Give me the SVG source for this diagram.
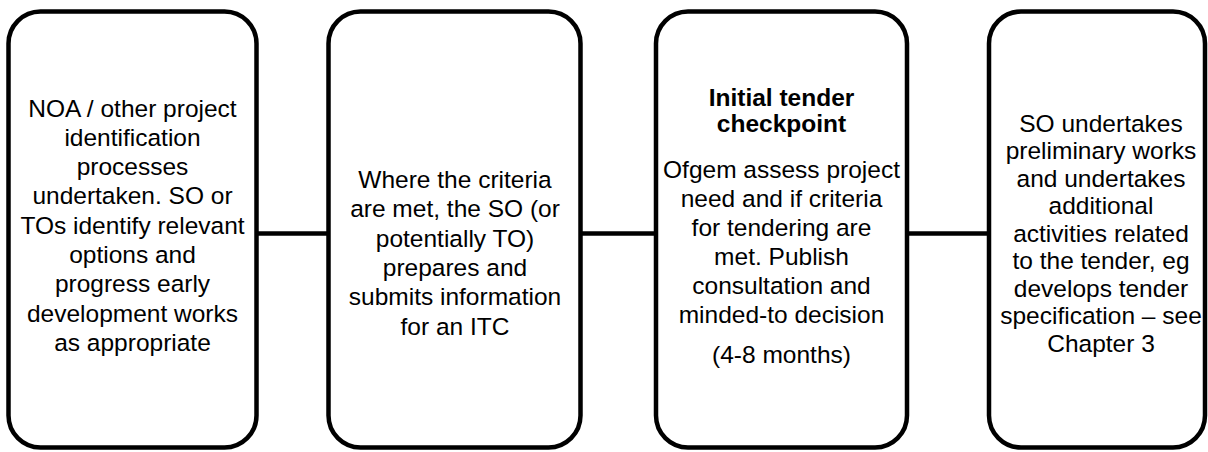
<svg xmlns="http://www.w3.org/2000/svg" width="1208" height="452" viewBox="0 0 1208 452">
  <style>
    .box { fill: #ffffff; stroke: #000000; stroke-width: 4.5; }
    .link { stroke: #000000; stroke-width: 4.5; fill: none; }
    text { font-family: "Liberation Sans", Arial, sans-serif; font-size: 24.5px; fill: #000000; text-anchor: middle; }
    .title { font-weight: bold; }
  </style>
  <rect width="1208" height="452" fill="#ffffff"/>

  <!-- connectors between stages -->
  <g id="connectors">
    <line class="link" x1="257" y1="233.5" x2="328" y2="233.5"/>
    <line class="link" x1="581" y1="233.5" x2="656" y2="233.5"/>
    <line class="link" x1="907" y1="233.5" x2="989" y2="233.5"/>
  </g>

  <!-- stage 1: project identification -->
  <g id="node-identification">
    <rect class="box" x="8.5" y="11.5" width="248" height="436" rx="32" ry="32"/>
    <text x="132.5" y="116.5">NOA / other project</text>
    <text x="132.5" y="145.8">identification</text>
    <text x="132.5" y="175.1">processes</text>
    <text x="132.5" y="204.4">undertaken. SO or</text>
    <text x="132.5" y="233.7">TOs identify relevant</text>
    <text x="132.5" y="263">options and</text>
    <text x="132.5" y="292.3">progress early</text>
    <text x="132.5" y="321.6">development works</text>
    <text x="132.5" y="350.9">as appropriate</text>
  </g>

  <!-- stage 2: ITC submission -->
  <g id="node-itc">
    <rect class="box" x="328.5" y="11.5" width="252" height="436" rx="32" ry="32"/>
    <text x="455" y="188">Where the criteria</text>
    <text x="455" y="217.3">are met, the SO (or</text>
    <text x="455" y="246.6">potentially TO)</text>
    <text x="455" y="275.9">prepares and</text>
    <text x="455" y="305.2">submits information</text>
    <text x="455" y="334.5">for an ITC</text>
  </g>

  <!-- stage 3: initial tender checkpoint -->
  <g id="node-checkpoint">
    <rect class="box" x="656" y="11.5" width="251" height="436" rx="32" ry="32"/>
    <text class="title" x="781.5" y="106">Initial tender</text>
    <text class="title" x="781.5" y="131.5">checkpoint</text>
    <text x="781.5" y="178">Ofgem assess project</text>
    <text x="781.5" y="207">need and if criteria</text>
    <text x="781.5" y="236">for tendering are</text>
    <text x="781.5" y="265">met. Publish</text>
    <text x="781.5" y="294">consultation and</text>
    <text x="781.5" y="323">minded-to decision</text>
    <text x="781.5" y="363">(4-8 months)</text>
  </g>

  <!-- stage 4: preliminary works -->
  <g id="node-preliminary">
    <rect class="box" x="989" y="11.5" width="216" height="436" rx="32" ry="32"/>
    <text x="1101" y="131.5">SO undertakes</text>
    <text x="1101" y="159">preliminary works</text>
    <text x="1101" y="186.5">and undertakes</text>
    <text x="1101" y="214">additional</text>
    <text x="1101" y="241.5">activities related</text>
    <text x="1101" y="269">to the tender, eg</text>
    <text x="1101" y="296.5">develops tender</text>
    <text x="1101" y="324">specification – see</text>
    <text x="1101" y="351.5">Chapter 3</text>
  </g>
</svg>
